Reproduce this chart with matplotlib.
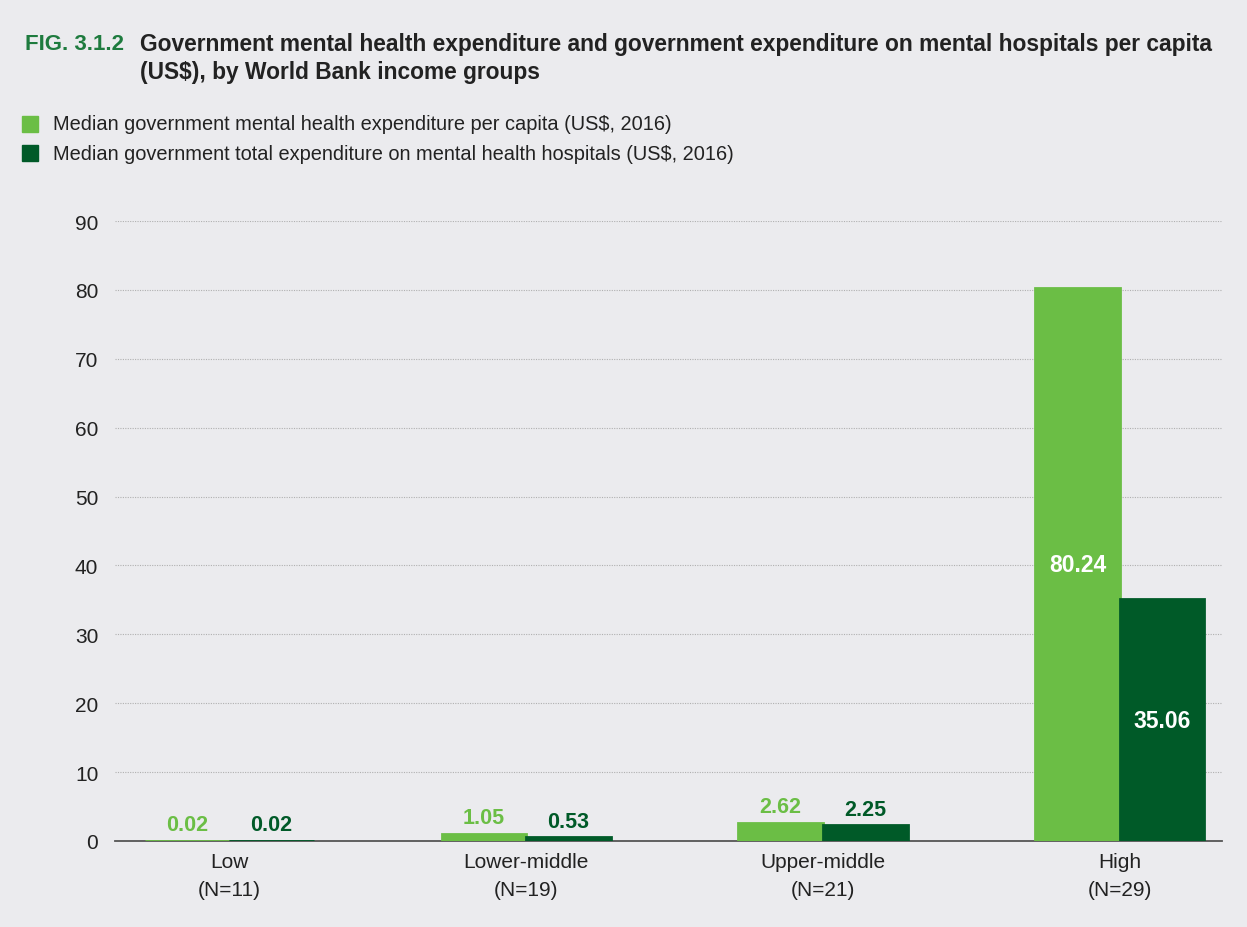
import matplotlib
matplotlib.use("Agg")
import matplotlib.pyplot as plt
import numpy as np

plt.rcParams["font.family"] = ["Liberation Sans", "DejaVu Sans"]

groups = ["Low", "Lower-middle", "Upper-middle", "High"]
group_n = [11, 19, 21, 29]
per_capita = [0.02, 1.05, 2.62, 80.24]
hospitals = [0.02, 0.53, 2.25, 35.06]
series_names = [
    "Median government mental health expenditure per capita (US$, 2016)",
    "Median government total expenditure on mental health hospitals (US$, 2016)",
]

bg = "#EBEBEE"
light = "#6BBE45"
dark = "#005A28"
title_green = "#1E7B3E"
text_col = "#222222"

fig = plt.figure(figsize=(12.47, 9.28), dpi=100, facecolor=bg)
ax = fig.add_axes([0.0922, 0.0927, 0.888, 0.668], facecolor=bg)

x = np.arange(len(groups))
w = 0.285
b1 = ax.bar(x - w / 2, per_capita, w, color=light, edgecolor=light, linewidth=2, zorder=3)
b2 = ax.bar(x + w / 2, hospitals, w, color=dark, edgecolor=dark, linewidth=2, zorder=3)

for bars, vals, col in [(b1, per_capita, light), (b2, hospitals, dark)]:
    for rect, v in zip(bars, vals):
        cx = rect.get_x() + rect.get_width() / 2
        if v > 20:
            ax.text(cx, v / 2, f"{v:.2f}", ha="center", va="center", color="white",
                    fontsize=16.5, fontweight="bold", zorder=4)
        else:
            ax.annotate(f"{v:.2f}", (cx, v), xytext=(0, 4), textcoords="offset points",
                        ha="center", va="bottom", color=col, fontsize=15.5,
                        fontweight="bold", zorder=4)

ax.set_xlim(-0.385, 3.345)
ax.set_ylim(0, 90)
ax.set_yticks(np.arange(0, 91, 10))
ax.set_xticks(x)
ax.set_xticklabels([f"{g}\n(N={n})" for g, n in zip(groups, group_n)], linespacing=1.6)
ax.tick_params(axis="both", length=0, labelsize=15, colors=text_col, pad=8)
ax.tick_params(axis="y", pad=12)
ax.yaxis.grid(True, linestyle=(0, (1, 1.2)), color="#B0B0B0", linewidth=0.8, zorder=0)
ax.set_axisbelow(True)
for s in ["top", "right", "left"]:
    ax.spines[s].set_visible(False)
ax.spines["bottom"].set_color("#555555")
ax.spines["bottom"].set_linewidth(1.3)
ax.spines["bottom"].set_zorder(2)

# title
fig.text(25 / 1247, 1 - 45 / 928, "FIG. 3.1.2", color=title_green, fontsize=16,
         fontweight="bold", va="center")
fig.text(140 / 1247, 1 - 45 / 928,
         "Government mental health expenditure and government expenditure on mental hospitals per capita",
         color=text_col, fontsize=16.4, fontweight="bold", va="center")
fig.text(140 / 1247, 1 - 72 / 928, "(US$), by World Bank income groups",
         color=text_col, fontsize=16.4, fontweight="bold", va="center")

# legend
for i, (name, col) in enumerate(zip(series_names, [light, dark])):
    y = 1 - (125 + 29 * i) / 928
    fig.patches.append(plt.Rectangle((22 / 1247, y - 8 / 928), 16 / 1247, 16 / 928,
                                     transform=fig.transFigure, color=col, figure=fig))
    fig.text(53 / 1247, y, name, color=text_col, fontsize=14.4, va="center")

fig.savefig("out.png", dpi=100, facecolor=bg)
